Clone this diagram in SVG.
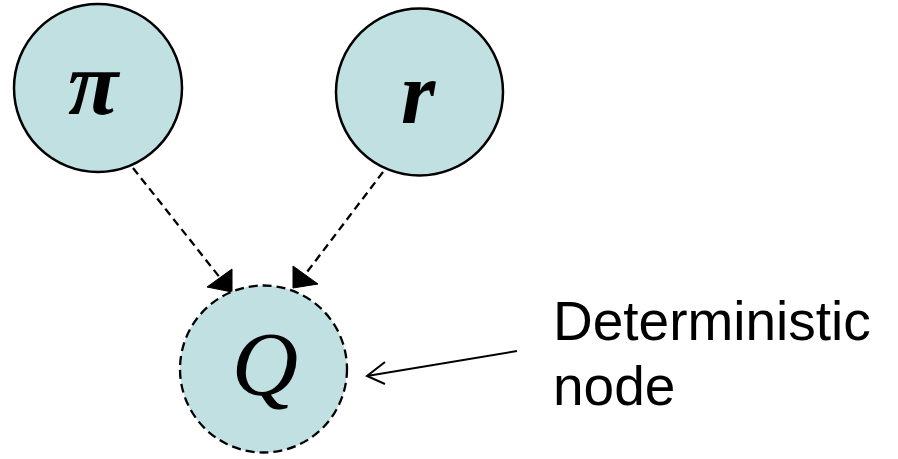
<svg xmlns="http://www.w3.org/2000/svg" width="898" height="459" viewBox="0 0 898 459">
<style>
.node{fill:#c1e0e2;stroke:#000;stroke-width:2.5}
.det{stroke-dasharray:9 5;stroke-width:2.3}
.m{font-family:"Liberation Serif",serif;font-style:italic;text-anchor:middle;fill:#000}
.lbl{font-family:"Liberation Sans",Arial,sans-serif;font-size:55px;fill:#000}
.edge{stroke:#000;stroke-width:2.3;stroke-dasharray:8 5;fill:none}
.head{fill:#000;stroke:#000;stroke-width:1;stroke-linejoin:miter}
</style>
<rect width="898" height="459" fill="#fff"/>
<g id="connectors">
<line class="edge" x1="133" y1="168" x2="221" y2="279"/>
<polygon class="head" points="232,269 232,292 207,287"/>
<line class="edge" x1="383" y1="172" x2="304" y2="276"/>
<polygon class="head" points="293,266 293,288 318,284"/>
<g id="note-arrow">
<line x1="517" y1="351" x2="367" y2="376" stroke="#000" stroke-width="2"/>
<polyline points="385,362 367,376 385,384" fill="none" stroke="#000" stroke-width="2"/>
</g>
</g>
<g id="pi">
<circle class="node" cx="98" cy="88" r="84"/>
<text class="m" x="93" y="114" font-size="92" font-weight="bold">π</text>
</g>
<g id="r">
<circle class="node" cx="419.5" cy="92" r="83.5"/>
<text class="m" x="418" y="123" font-size="88" font-weight="bold">r</text>
</g>
<g id="Q">
<circle class="node det" cx="263.5" cy="369" r="83.5"/>
<text class="m" x="265" y="395" font-size="92">Q</text>
</g>
<g id="label">
<text class="lbl" x="553" y="340">Deterministic</text>
<text class="lbl" x="553" y="405">node</text>
</g>
</svg>
